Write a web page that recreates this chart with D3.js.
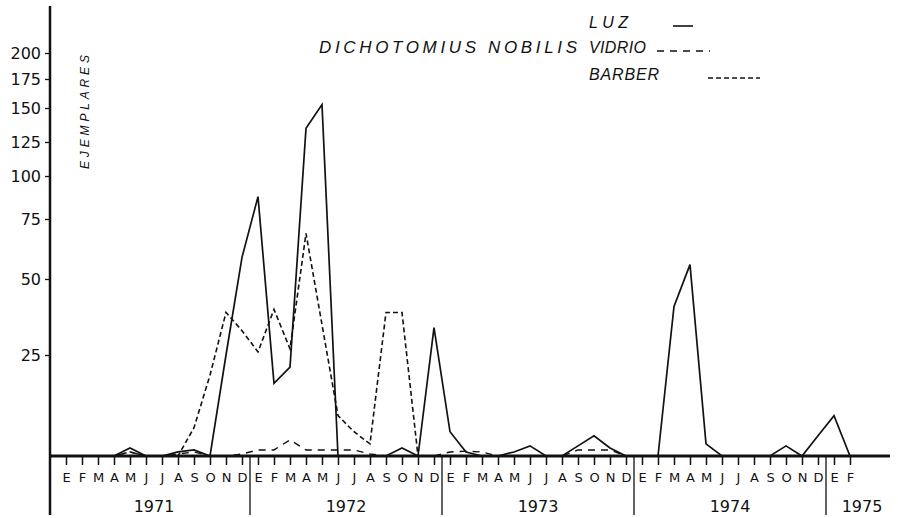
<!DOCTYPE html>
<html>
<head>
<meta charset="utf-8">
<script src="https://cdn.jsdelivr.net/npm/d3@7"></script>
<style>
  body { margin: 0; background: #fff; }
  text { fill: #111; font-family: "Liberation Sans", "DejaVu Sans", sans-serif; }
</style>
</head>
<body>
<script>
// data: monthly counts, Jan 1971 .. Feb 1975
var monthLetters = ["E","F","M","A","M","J","J","A","S","O","N","D"];
var years = ["1971","1972","1973","1974","1975"];

var luz = [
    0, 0, 0, 0, 2, 0, 0, 1, 1.5, 0, 25, 59,          // 1971
    88, 18, 22, 135, 153, 0, 0, 0, 0, 2, 0, 34,      // 1972
    6, 1, 0, 0, 1, 2.5, 0, 0, 2.5, 5, 2, 0,          // 1973
    0, 0, 41, 56, 3, 0, 0, 0, 0, 2.5, 0, 5,          // 1974
    10, 0                                            // 1975
];
var vidrio = [
    0, 0, 0, 0, 1, 0, 0, 0.5, 1, 0, 0, 0.5,
    1.5, 1.5, 4, 1.5, 1.5, 1.5, 1.5, 0.5, 0, 0, 0, 0,
    1, 1.2, 1, 0, 0, 0, 0, 0, 1.5, 1.5, 1.5, 0,
    0, 0, 0, 0, 0, 0, 0, 0, 0, 0, 0, 0,
    0, 0
];
var barber = [
    0, 0, 0, 0, 1, 0, 0, 0, 7, 20, 39, 33,
    26, 40, 27, 69, 35, 10, 6, 3, 39, 39, 0, 0,
    0, 0, 0, 0, 0, 0, 0, 0, 0, 0, 0, 0,
    0, 0, 0, 0, 0, 0, 0, 0, 0, 0, 0, 0,
    0, 0
];
var yTicks = [25, 50, 75, 100, 125, 150, 175, 200];

var width = 898, height = 518;

// set the ranges (hand drawn y axis is not even, so piecewise)
var x = d3.scaleLinear().domain([0, luz.length - 1]).range([66, 850]);
var y = d3.scaleLinear()
    .domain([0, 25, 50, 75, 100, 125, 150, 175, 200])
    .range([456, 355, 279, 219, 176, 142, 108, 79, 53]);

var axisX = 50, axisTop = 6, axisRight = 890, bottom = 515;

var svg = d3.select("body").append("svg")
    .attr("width", width)
    .attr("height", height);

// define the line
var valueline = d3.line()
    .x(function(d, i){ return x(i); })
    .y(function(d){ return y(d); });

// series
svg.append("path")
    .attr("d", valueline(vidrio))
    .attr("fill", "none")
    .attr("stroke", "#111")
    .attr("stroke-width", 1.4)
    .attr("stroke-dasharray", "7,6");

svg.append("path")
    .attr("d", valueline(barber))
    .attr("fill", "none")
    .attr("stroke", "#111")
    .attr("stroke-width", 1.6)
    .attr("stroke-dasharray", "5,3");

svg.append("path")
    .attr("d", valueline(luz))
    .attr("fill", "none")
    .attr("stroke", "#111")
    .attr("stroke-width", 1.7)
    .attr("stroke-linejoin", "miter");

// Add the X Axis (month ticks)
var months = d3.range(luz.length);
var xAxis = d3.axisBottom(x)
    .tickValues(months)
    .tickSize(9)
    .tickPadding(5)
    .tickFormat(function(i){ return monthLetters[i % 12]; });

var gx = svg.append("g")
    .attr("transform", "translate(0," + y(0) + ")")
    .call(xAxis);
gx.select(".domain").remove();
gx.selectAll(".tick line").attr("stroke", "#111").attr("stroke-width", 1.5);
gx.selectAll(".tick text")
    .attr("dy", "0.9em")
    .style("font-size", "13px")
    .style("font-family", "'DejaVu Sans', sans-serif")
    .style("fill", "#111");

// baseline and y axis line
svg.append("line")
    .attr("x1", axisX).attr("x2", axisRight)
    .attr("y1", y(0)).attr("y2", y(0))
    .attr("stroke", "#111").attr("stroke-width", 3);

svg.append("line")
    .attr("x1", axisX).attr("x2", axisX)
    .attr("y1", axisTop).attr("y2", bottom)
    .attr("stroke", "#111").attr("stroke-width", 2.5);

// year separators and labels
var sepX = [x(-0.5)];
years.forEach(function(yr, k){
    if (k > 0) sepX.push(x(k * 12 - 0.5));
});
sepX.push(width);

sepX.slice(1, years.length).forEach(function(sx){
    svg.append("line")
        .attr("x1", sx).attr("x2", sx)
        .attr("y1", y(0)).attr("y2", bottom)
        .attr("stroke", "#111").attr("stroke-width", 1.3);
});

years.forEach(function(yr, k){
    svg.append("text")
        .text(yr)
        .attr("x", (sepX[k] + sepX[k + 1]) / 2)
        .attr("y", 512)
        .attr("text-anchor", "middle")
        .style("font-size", "16px")
        .style("font-family", "'DejaVu Sans', sans-serif");
});

// Add the Y Axis
var yAxis = d3.axisLeft(y)
    .tickValues(yTicks)
    .tickSize(5)
    .tickPadding(4);

var gy = svg.append("g")
    .attr("transform", "translate(" + axisX + ",0)")
    .call(yAxis);
gy.select(".domain").remove();
gy.selectAll(".tick line").attr("stroke", "#111").attr("stroke-width", 1.3);
gy.selectAll(".tick text")
    .style("font-size", "16px")
    .style("font-family", "'DejaVu Sans', sans-serif")
    .style("fill", "#111");

// Add y Axis text
svg.append("text")
    .text("EJEMPLARES")
    .attr("transform", "translate(89,112) rotate(-90)")
    .attr("text-anchor", "middle")
    .attr("textLength", 114)
    .attr("lengthAdjust", "spacing")
    .style("font-size", "12px")
    .style("font-style", "italic");

// title
svg.append("text")
    .text("DICHOTOMIUS NOBILIS")
    .attr("x", 319)
    .attr("y", 53)
    .attr("textLength", 258)
    .attr("lengthAdjust", "spacing")
    .style("font-size", "17px")
    .style("font-style", "italic");

// legend
var legend = [
    {name: "LUZ", dash: null, width: 1.6, lx: [673, 693], ty: 28, len: 39},
    {name: "VIDRIO", dash: "7,6", width: 1.3, lx: [657, 710], ty: 53, len: 57},
    {name: "BARBER", dash: "5,3", width: 1.5, lx: [708, 760], ty: 80, len: 70}
];
legend.forEach(function(l){
    svg.append("text")
        .text(l.name)
        .attr("x", 589)
        .attr("y", l.ty)
        .attr("textLength", l.len)
        .attr("lengthAdjust", "spacing")
        .style("font-size", "16px")
        .style("font-style", "italic");
    svg.append("line")
        .attr("x1", l.lx[0]).attr("x2", l.lx[1])
        .attr("y1", l.ty - 2).attr("y2", l.ty - 2)
        .attr("stroke", "#111")
        .attr("stroke-width", l.width)
        .attr("stroke-dasharray", l.dash);
});
</script>
</body>
</html>
